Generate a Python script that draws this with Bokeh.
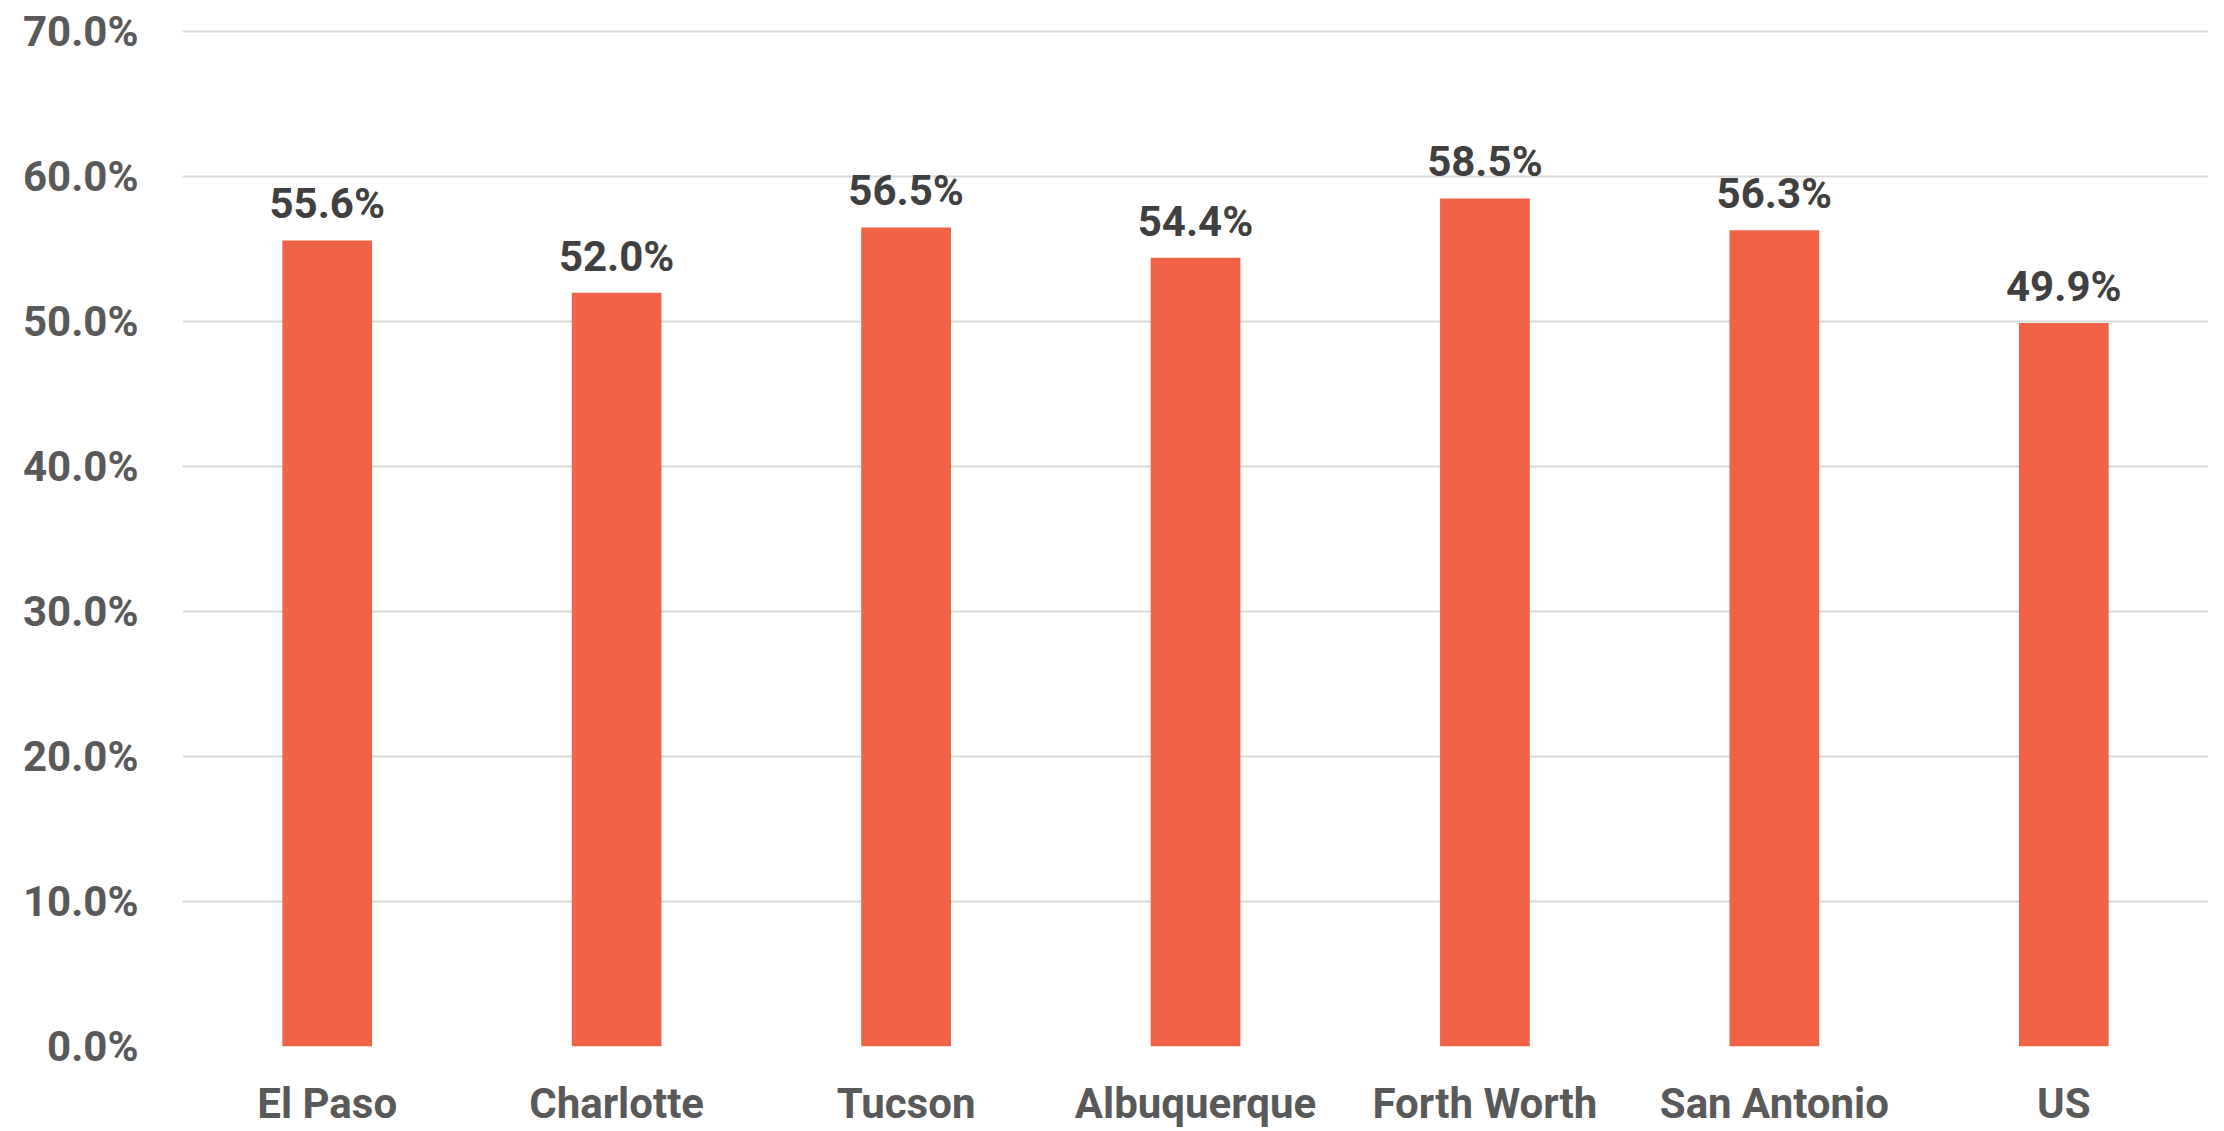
from bokeh.plotting import figure
from bokeh.models import ColumnDataSource, Range1d, FixedTicker, PrintfTickFormatter, LabelSet
from bokeh.core.properties import value
from bokeh.embed import file_html
from bokeh.resources import INLINE

cities = ["El Paso", "Charlotte", "Tucson", "Albuquerque", "Forth Worth", "San Antonio", "US"]
values = [55.6, 52.0, 56.5, 54.4, 58.5, 56.3, 49.9]
y_ticks = [0, 10, 20, 30, 40, 50, 60, 70]

src = ColumnDataSource(dict(
    city=cities,
    val=values,
    lbl=[f"{v:.1f}%" for v in values],
))

p = figure(x_range=cities, y_range=Range1d(0, 70.15), width=2208, height=1131,
           output_backend="svg", toolbar_location=None,
           min_border_left=182, min_border_right=0, min_border_top=29, min_border_bottom=85)
p.outline_line_color = None
p.background_fill_color = "white"

p.vbar(x="city", top="val", width=0.31, source=src, color="#F16346", line_color=None)

labels = LabelSet(x="city", y="val", text="lbl", source=src, text_align="center",
                  text_baseline="alphabetic", y_offset=22, text_font=value("Roboto"),
                  text_font_style="bold", text_font_size="42px", text_color="#404040")
p.add_layout(labels)

p.xgrid.grid_line_color = None
p.ygrid.grid_line_color = "#D9D9D9"
p.ygrid.grid_line_width = 2
p.yaxis.ticker = FixedTicker(ticks=y_ticks)
p.yaxis.formatter = PrintfTickFormatter(format="%.1f%%")

for ax in (p.xaxis[0], p.yaxis[0]):
    ax.axis_line_color = None
    ax.major_tick_line_color = None
    ax.minor_tick_line_color = None
    ax.major_tick_out = 0
    ax.major_tick_in = 0
    ax.minor_tick_out = 0
    ax.major_label_text_font = "Roboto"
    ax.major_label_text_font_style = "bold"
    ax.major_label_text_font_size = "42px"
    ax.major_label_text_color = "#595959"

p.xaxis.major_label_standoff = 32
p.yaxis.major_label_standoff = 44

open("out.html", "w").write(file_html(p, INLINE))
